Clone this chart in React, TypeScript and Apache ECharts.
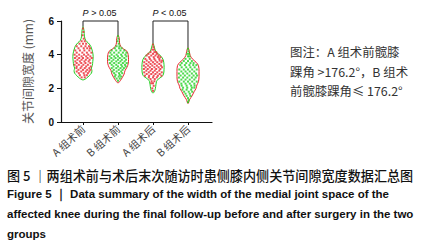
import React, { useEffect, useRef } from "react";
import * as echarts from "echarts";

const categories = ["A 组术前", "B 组术前", "A 组术后", "B 组术后"];
const yMin = 0;
const yMax = 6;
const yInterval = 2;
const yAxisTitle = "关节间隙宽度 (mm)";

// violin outlines: [value, half width in category units]
const aPreProfile: [number, number][] = [
  [5.66, 0], [5.4, 0.03], [5.1, 0.04], [4.85, 0.076], [4.7, 0.15], [4.55, 0.21], [4.4, 0.24],
  [4.2, 0.27], [3.9, 0.29], [3.6, 0.28], [3.35, 0.265], [3.2, 0.24], [3.05, 0.255], [2.9, 0.24],
  [2.75, 0.175], [2.6, 0.1], [2.5, 0],
];
const bPreProfile: [number, number][] = [
  [5.16, 0], [4.95, 0.038], [4.7, 0.044], [4.5, 0.076], [4.35, 0.15], [4.2, 0.255], [4.0, 0.29],
  [3.7, 0.3], [3.45, 0.29], [3.25, 0.255], [3.05, 0.2], [2.85, 0.175], [2.65, 0.125], [2.45, 0.062],
  [2.32, 0],
];
const aPostProfile: [number, number][] = [
  [4.68, 0], [4.45, 0.038], [4.2, 0.076], [4.05, 0.15], [3.9, 0.23], [3.7, 0.29], [3.4, 0.315],
  [3.1, 0.315], [2.85, 0.3], [2.7, 0.255], [2.55, 0.15], [2.4, 0.1], [2.1, 0.076], [1.85, 0.05],
  [1.72, 0],
];
const bPostProfile: [number, number][] = [
  [4.42, 0], [4.2, 0.038], [3.95, 0.062], [3.75, 0.125], [3.55, 0.23], [3.35, 0.3], [3.0, 0.315],
  [2.7, 0.315], [2.4, 0.3], [2.2, 0.255], [2.0, 0.23], [1.8, 0.175], [1.55, 0.115], [1.35, 0.05],
  [1.1, 0],
];
const profiles = [aPreProfile, bPreProfile, aPostProfile, bPostProfile];

// individual points: [value, offsets from category centre]
const aPreRows: [number, number[]][] = [
  [5.55, [0]], [5.35, [0.01]], [5.15, [-0.01]], [4.95, [0.02]], [4.8, [-0.04, 0.05]],
  [4.65, [-0.1, 0, 0.09]], [4.5, [-0.18, -0.05, 0.07, 0.17]], [4.38, [-0.13, 0.02, 0.12, 0.2]],
  [4.25, [-0.22, -0.09, 0.04, 0.18]], [4.12, [-0.18, -0.02, 0.11, 0.24]], [4.0, [-0.24, -0.11, 0.03, 0.15]],
  [3.9, [-0.18, -0.04, 0.09, 0.21]], [3.8, [-0.23, -0.11, 0, 0.13, 0.25]], [3.7, [-0.16, -0.04, 0.08, 0.19]],
  [3.6, [-0.22, -0.09, 0.04, 0.16]], [3.5, [-0.18, -0.05, 0.07, 0.21]], [3.4, [-0.24, -0.12, 0.01, 0.14]],
  [3.3, [-0.18, -0.04, 0.09, 0.22]], [3.2, [-0.19, -0.07, 0.05, 0.18]], [3.1, [-0.13, 0, 0.12, 0.21]],
  [3.0, [-0.18, -0.05, 0.08, 0.18]], [2.9, [-0.12, 0.02, 0.14]], [2.78, [-0.09, 0.04, 0.11]], [2.65, [-0.04, 0.05]],
];
const bPreRows: [number, number[]][] = [
  [5.1, [0]], [4.95, [0.01]], [4.8, [-0.01]], [4.65, [0.02]], [4.5, [-0.04, 0.04]],
  [4.38, [-0.09, 0.03, 0.1]], [4.25, [-0.18, -0.05, 0.07, 0.18]], [4.12, [-0.22, -0.11, 0.02, 0.14, 0.24]],
  [4.0, [-0.18, -0.04, 0.09, 0.21]], [3.9, [-0.24, -0.11, 0, 0.12, 0.24]], [3.8, [-0.19, -0.07, 0.05, 0.18]],
  [3.7, [-0.25, -0.13, 0, 0.11, 0.23]], [3.6, [-0.18, -0.05, 0.07, 0.19]], [3.5, [-0.23, -0.11, 0.02, 0.14, 0.25]],
  [3.4, [-0.18, -0.05, 0.09, 0.2]], [3.3, [-0.13, 0, 0.12, 0.22]], [3.2, [-0.18, -0.05, 0.07, 0.17]],
  [3.1, [-0.12, 0.02, 0.13]], [3.0, [-0.16, -0.04, 0.09]], [2.9, [-0.11, 0.03, 0.12]], [2.8, [-0.07, 0.05]],
  [2.7, [-0.09, 0.02, 0.09]], [2.58, [-0.04, 0.05]], [2.45, [0]],
];
const aPostRows: [number, number[]][] = [
  [4.6, [0]], [4.45, [0.01]], [4.3, [-0.02, 0.03]], [4.15, [-0.07, 0.04, 0.09]], [4.05, [-0.13, 0, 0.11]],
  [3.95, [-0.18, -0.05, 0.07, 0.16]], [3.85, [-0.11, 0.02, 0.14, 0.21]], [3.75, [-0.22, -0.09, 0.04, 0.18]],
  [3.65, [-0.18, -0.05, 0.07, 0.19, 0.26]], [3.55, [-0.25, -0.12, 0, 0.12, 0.24]], [3.45, [-0.19, -0.07, 0.05, 0.18]],
  [3.35, [-0.26, -0.14, -0.02, 0.11, 0.23]], [3.25, [-0.21, -0.09, 0.04, 0.16, 0.26]], [3.15, [-0.26, -0.15, -0.03, 0.09, 0.21]],
  [3.05, [-0.19, -0.07, 0.05, 0.18]], [2.95, [-0.25, -0.12, 0, 0.12, 0.25]], [2.85, [-0.18, -0.05, 0.07, 0.19]],
  [2.75, [-0.23, -0.11, 0.02, 0.14, 0.24]], [2.65, [-0.12, 0, 0.11]], [2.55, [-0.07, 0.05]],
  [2.42, [-0.04, 0.04]], [2.3, [0, -0.05]], [2.15, [0.02]], [2.0, [-0.02]], [1.85, [0]],
];
const bPostRows: [number, number[]][] = [
  [4.35, [0]], [4.2, [0.01]], [4.05, [-0.02, 0.03]], [3.9, [0, 0.04]], [3.75, [-0.07, 0.05]],
  [3.62, [-0.12, 0, 0.11]], [3.5, [-0.18, -0.05, 0.07, 0.16]], [3.38, [-0.22, -0.09, 0.04, 0.15, 0.24]],
  [3.25, [-0.18, -0.05, 0.07, 0.19]], [3.12, [-0.25, -0.12, 0, 0.12, 0.25]], [3.0, [-0.19, -0.07, 0.05, 0.18]],
  [2.88, [-0.26, -0.14, -0.02, 0.11, 0.23]], [2.76, [-0.21, -0.09, 0.04, 0.16, 0.26]], [2.64, [-0.26, -0.14, -0.02, 0.11, 0.22]],
  [2.52, [-0.19, -0.07, 0.05, 0.18]], [2.4, [-0.25, -0.12, 0, 0.12, 0.25]], [2.28, [-0.19, -0.07, 0.05, 0.18]],
  [2.16, [-0.18, -0.04, 0.09, 0.19]], [2.04, [-0.14, -0.02, 0.11, 0.18]], [1.92, [-0.16, -0.04, 0.09]],
  [1.8, [-0.11, 0.02, 0.12]], [1.68, [-0.07, 0.05]], [1.55, [-0.04, 0.07]], [1.42, [0]], [1.3, [0.02]], [1.18, [0]],
];
const pointRows = [aPreRows, bPreRows, aPostRows, bPostRows];

// significance brackets: [left category, right category, label]
const brackets: [number, number, string][] = [
  [0, 1, "P > 0.05"],
  [2, 3, "P < 0.05"],
];
const bracketLevel = 6;

const legendLines = ["图注：A 组术前髋膝", "踝角 >176.2°，B 组术", "前髋膝踝角≤ 176.2°"];
const captionCn = "图 5 ｜两组术前与术后末次随访时患侧膝内侧关节间隙宽度数据汇总图";
const captionEn = [
  "Figure 5 ｜ Data summary of the width of the medial joint space of the",
  "affected knee during the final follow-up before and after surgery in the two",
  "groups",
];

const RED = "#e8262e";
const GREEN = "#22d022";
const violinStroke = [GREEN, RED, GREEN, RED];
const dotColor = [RED, GREEN, RED, GREEN];

export default function App() {
  const ref = useRef<HTMLDivElement>(null);
  useEffect(() => {
    if (!ref.current) return;
    const chart = echarts.init(ref.current, null, { renderer: "svg" });
    const pos = categories.map((_, i) => i + 1);

    const scatterSeries = pointRows.map((rows, gi) => ({
      type: "scatter",
      symbol: "rect",
      symbolSize: 2,
      itemStyle: { color: dotColor[gi] },
      z: 4,
      data: rows.flatMap(([v, offs]) => offs.map((o) => [pos[gi] + o, v])),
    }));

    const option: any = {
      animation: false,
      grid: { left: 61, top: 21, width: 151, height: 101 },
      xAxis: {
        type: "value",
        min: 0.371,
        max: 4.686,
        splitLine: { show: false },
        axisLine: { show: true, onZero: false, lineStyle: { color: "#111", width: 1.2 } },
        axisTick: { show: true, customValues: pos, length: 3, lineStyle: { color: "#111" } },
        axisLabel: {
          customValues: pos,
          formatter: (v: number) => categories[Math.round(v) - 1] ?? "",
          rotate: 42,
          fontSize: 10.5,
          color: "#444",
          margin: 5,
          fontFamily: "Noto Sans CJK SC",
        },
      },
      yAxis: {
        type: "value",
        min: yMin,
        max: yMax,
        interval: yInterval,
        name: yAxisTitle,
        nameLocation: "middle",
        nameRotate: 90,
        nameGap: 28,
        nameTextStyle: { fontSize: 12, color: "#555", fontFamily: "Noto Sans CJK SC" },
        splitLine: { show: false },
        axisLine: { show: true, lineStyle: { color: "#111", width: 1.2 } },
        axisTick: { show: true, length: 4, lineStyle: { color: "#111" } },
        axisLabel: { fontSize: 10, color: "#111", margin: 7, fontFamily: "Liberation Sans", fontWeight: "bold" },
      },
      series: [
        {
          type: "custom",
          z: 2,
          clip: false,
          data: pos.map((p) => [p, 3]),
          renderItem: (params: any, api: any) => {
            const c = api.value(0);
            const prof = profiles[params.dataIndex];
            const right = prof.map(([v, hw]) => api.coord([c + hw, v]));
            const left = prof
              .slice(1, -1)
              .reverse()
              .map(([v, hw]) => api.coord([c - hw, v]));
            return {
              type: "polygon",
              shape: { points: right.concat(left), smooth: 0.35 },
              style: { fill: "none", stroke: violinStroke[params.dataIndex], lineWidth: 1 },
            };
          },
        },
        ...scatterSeries,
        {
          type: "custom",
          z: 5,
          clip: false,
          data: brackets.map(([a, b]) => [pos[a], pos[b]]),
          renderItem: (params: any, api: any) => {
            const [a, b, label] = brackets[params.dataIndex];
            const topA = profiles[a][0][0];
            const topB = profiles[b][0][0];
            const p1 = api.coord([pos[a], topA]);
            const p2 = api.coord([pos[a], bracketLevel]);
            const p3 = api.coord([pos[b], bracketLevel]);
            const p4 = api.coord([pos[b], topB]);
            const [pLetter, ...rest] = label.split(" ");
            return {
              type: "group",
              children: [
                {
                  type: "polyline",
                  shape: { points: [p1, p2, p3, p4] },
                  style: { stroke: "#222", lineWidth: 1, fill: "none" },
                },
                {
                  type: "text",
                  x: (p2[0] + p3[0]) / 2 - 1,
                  y: p2[1] - 8,
                  style: {
                    text: `{i|${pLetter}} ${rest.join(" ")}`,
                    align: "center",
                    verticalAlign: "middle",
                    fontSize: 9,
                    fill: "#111",
                    fontFamily: "Liberation Sans",
                    rich: { i: { fontStyle: "italic", fontSize: 9, fontFamily: "Liberation Sans" } },
                  },
                },
              ],
            };
          },
        },
      ],
      graphic: [
        ...legendLines.map((t, i) => ({
          type: "text",
          left: 290,
          top: [46, 66, 85][i],
          style: { text: t, fontSize: 12.4, fill: "#333", fontFamily: "Noto Sans CJK SC" },
        })),
        {
          type: "text",
          left: 7,
          top: 169,
          style: { text: captionCn, fontSize: 13.1, fill: "#111", fontFamily: "Noto Sans CJK SC", fontWeight: 500 },
        },
        ...captionEn.map((t, i) => ({
          type: "text",
          left: 7,
          top: [188, 208, 228][i],
          style: { text: t, fontSize: 11.5, fill: "#111", fontFamily: "Liberation Sans", fontWeight: "bold" },
        })),
      ],
    };
    chart.setOption(option);
    return () => chart.dispose();
  }, []);
  return (
    <div
      ref={ref}
      style={{ position: "fixed", left: 0, top: 0, width: 422, height: 245, background: "#fff" }}
    />
  );
}
